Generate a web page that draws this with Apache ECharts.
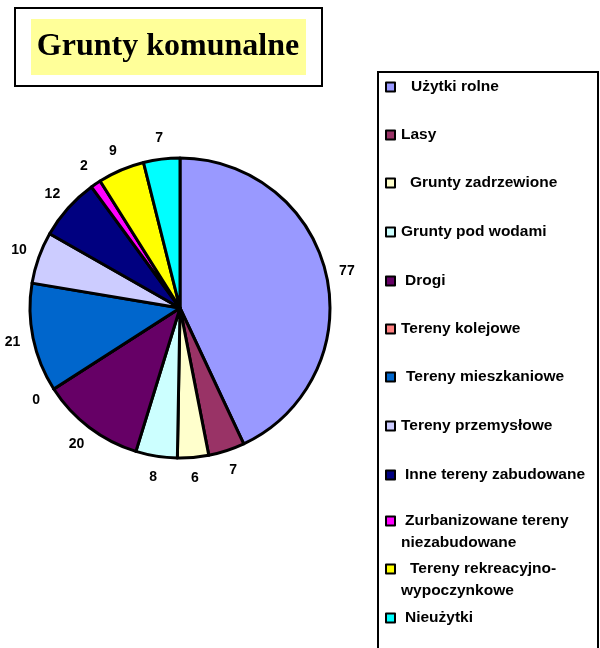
<!DOCTYPE html>
<html>
<head>
<meta charset="utf-8">
<script src="https://cdn.jsdelivr.net/npm/echarts@6/dist/echarts.min.js"></script>
<style>html,body{margin:0;padding:0;background:#fff}#c{width:600px;height:648px}</style>
</head>
<body>
<div id="c"></div>
<script>
const titleText = 'Grunty komunalne';
const categories = ['Użytki rolne','Lasy','Grunty zadrzewione','Grunty pod wodami','Drogi','Tereny kolejowe','Tereny mieszkaniowe','Tereny przemysłowe','Inne tereny zabudowane','Zurbanizowane tereny niezabudowane','Tereny rekreacyjno-wypoczynkowe','Nieużytki'];
const values = [77, 7, 6, 8, 20, 0, 21, 10, 12, 2, 9, 7];
const colors = ['#9999FF','#993366','#FFFFCC','#CCFFFF','#660066','#FF8080','#0066CC','#CCCCFF','#000080','#FF00FF','#FFFF00','#00FFFF'];
// legend first-line text and continuation
const legendFirst = ['Użytki rolne','Lasy','Grunty zadrzewione','Grunty pod wodami','Drogi','Tereny kolejowe','Tereny mieszkaniowe','Tereny przemysłowe','Inne tereny zabudowane','Zurbanizowane tereny','Tereny rekreacyjno-','Nieużytki'];
const legendSecond = ['','','','','','','','','','niezabudowane','wypoczynkowe',''];

// layout (not data)
const legendY = [87,135,183,232,281,329,377,426,475,521,569,618];
const legendPad = [11,1,10,1,5,1,6,1,5,5,10,5];

const chart = echarts.init(document.getElementById('c'));
const legends = categories.map((name, i) => ({
  data: [name],
  orient: 'vertical',
  left: 385,
  top: legendY[i] - 8,
  padding: 0,
  itemWidth: 9,
  itemHeight: 9,
  icon: 'rect',
  selectedMode: false,
  itemStyle: { borderColor: '#000', borderWidth: 2 },
  formatter: () => legendFirst[i],
  textStyle: { fontFamily: 'Liberation Sans, Arial', fontWeight: 'bold', fontSize: 15.5, color: '#000', lineHeight: 16, padding: [0,0,0,legendPad[i]] }
}));

const graphics = [
  { type: 'rect', shape: { x: 15, y: 8, width: 307, height: 78 }, style: { fill: '#fff', stroke: '#000', lineWidth: 2 }, z: 0 },
  { type: 'rect', shape: { x: 31, y: 19, width: 275, height: 56 }, style: { fill: '#FFFF99' }, z: 1 },
  { type: 'text', x: 168, y: 47, style: { text: titleText, font: 'bold 32px "Liberation Serif", "Times New Roman", serif', fill: '#000', align: 'center', verticalAlign: 'middle' }, z: 2 },
  { type: 'rect', shape: { x: 378, y: 72, width: 220, height: 600 }, style: { fill: '#fff', stroke: '#000', lineWidth: 2 }, z: 0 }
];
legendSecond.forEach((t, i) => {
  if (t) graphics.push({ type: 'text', x: 401, y: legendY[i] + 22, style: { text: t, font: 'bold 15.5px "Liberation Sans", Arial', fill: '#000', verticalAlign: 'middle' }, z: 3 });
});

const pieData = categories.map((n, i) => ({ name: n, value: values[i] }));

chart.setOption({
  animation: false,
  color: colors,
  legend: legends,
  graphic: graphics,
  series: [{
    type: 'pie',
    center: [180, 308],
    radius: [0, 150],
    startAngle: 90,
    clockwise: true,
    avoidLabelOverlap: false,
    stillShowZeroSum: true,
    itemStyle: { borderColor: '#000', borderWidth: 3 },
    label: { show: false },
    labelLine: { show: false },
    emphasis: { disabled: true },
    data: pieData
  }, {
    type: 'pie',
    center: [180, 308],
    radius: [152, 184],
    startAngle: 90,
    clockwise: true,
    avoidLabelOverlap: false,
    silent: true,
    stillShowZeroSum: true,
    minShowLabelAngle: 0,
    itemStyle: { color: 'rgba(0,0,0,0)', borderWidth: 0 },
    label: { show: true, position: 'inside', rotate: 0, formatter: '{c}', color: '#000', fontFamily: 'Liberation Sans, Arial', fontWeight: 'bold', fontSize: 14 },
    labelLine: { show: false },
    emphasis: { disabled: true },
    data: pieData
  }]
});
</script>
</body>
</html>
